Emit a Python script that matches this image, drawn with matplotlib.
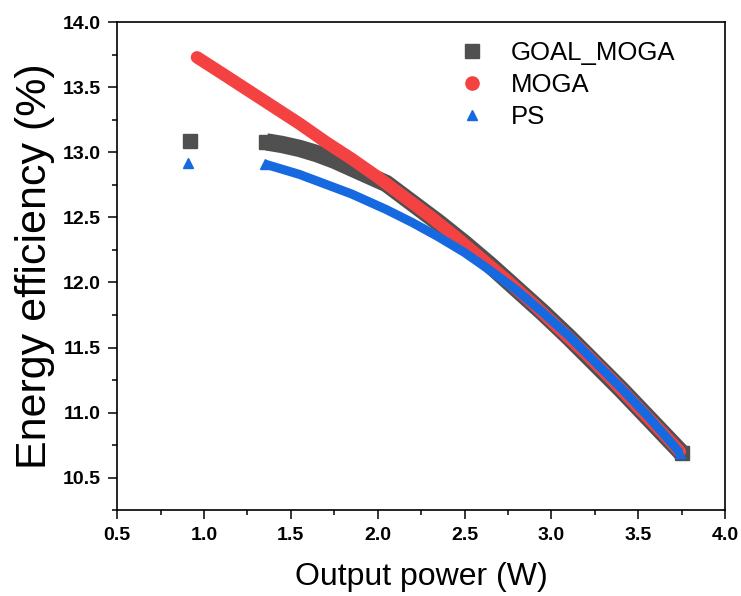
import matplotlib
matplotlib.use("Agg")
import matplotlib.pyplot as plt
from matplotlib.lines import Line2D
from matplotlib.ticker import MultipleLocator

plt.rcParams['font.family'] = ['Liberation Sans', 'DejaVu Sans']

# Pareto fronts: output power (W) vs energy efficiency (%)
goal_x = [1.36, 1.45, 1.55, 1.65, 1.75, 1.85, 1.95, 2.05, 2.20, 2.35, 2.50, 2.65,
          2.80, 2.95, 3.10, 3.25, 3.40, 3.55, 3.65, 3.75]
goal_y = [13.08, 13.06, 13.03, 12.99, 12.94, 12.88, 12.82, 12.76, 12.61, 12.46, 12.30, 12.13,
          11.95, 11.77, 11.58, 11.38, 11.18, 10.97, 10.83, 10.69]
goal_lone_x = [0.92]
goal_lone_y = [13.09]

moga_x = [0.96, 1.10, 1.25, 1.40, 1.55, 1.70, 1.85, 2.00, 2.15, 2.30, 2.45, 2.60,
          2.75, 2.90, 3.05, 3.20, 3.35, 3.50, 3.65, 3.74]
moga_y = [13.73, 13.61, 13.48, 13.35, 13.22, 13.08, 12.95, 12.81, 12.66, 12.51, 12.35, 12.18,
          12.01, 11.83, 11.64, 11.45, 11.25, 11.04, 10.83, 10.70]

ps_x = [1.35, 1.45, 1.55, 1.65, 1.75, 1.85, 1.95, 2.05, 2.20, 2.35, 2.50, 2.65,
        2.80, 2.95, 3.10, 3.25, 3.40, 3.55, 3.65, 3.74]
ps_y = [12.91, 12.87, 12.83, 12.78, 12.73, 12.68, 12.62, 12.56, 12.46, 12.35, 12.23, 12.09,
        11.94, 11.77, 11.59, 11.39, 11.19, 10.98, 10.83, 10.69]
ps_lone_x = [0.91]
ps_lone_y = [12.92]

labels = ['GOAL_MOGA', 'MOGA', 'PS']
colors = ['#505050', '#f44242', '#1769e0']

fig = plt.figure(figsize=(7.41, 5.96), dpi=100)
ax = fig.add_axes([0.158, 0.144, 0.8205, 0.8188])

# dense fronts drawn as thick bands, lone points as single markers
ax.plot(goal_x, goal_y, color=colors[0], lw=12.5, solid_capstyle='butt',
        solid_joinstyle='round', marker='s', ms=10.5, markevery=[0, -1], zorder=2)
ax.plot(goal_lone_x, goal_lone_y, ls='none', marker='s', ms=10, color=colors[0], zorder=2)

ax.plot(moga_x, moga_y, color=colors[1], lw=9, solid_capstyle='round',
        solid_joinstyle='round', zorder=3)

ax.plot(ps_x, ps_y, color=colors[2], lw=6.5, solid_capstyle='butt',
        solid_joinstyle='round', marker='^', ms=7, markevery=[0, -1], zorder=4)
ax.plot(ps_lone_x, ps_lone_y, ls='none', marker='^', ms=7, color=colors[2], zorder=4)

ax.set_xlim(0.5, 4.0)
ax.set_ylim(10.25, 14.0)
ax.xaxis.set_major_locator(MultipleLocator(0.5))
ax.xaxis.set_minor_locator(MultipleLocator(0.25))
ax.yaxis.set_major_locator(MultipleLocator(0.5))
ax.yaxis.set_minor_locator(MultipleLocator(0.25))
ax.tick_params(which='major', direction='out', length=6.5, width=1.1, pad=5.5)
ax.tick_params(which='minor', direction='out', length=3.5, width=1.1)
for lab in ax.get_xticklabels() + ax.get_yticklabels():
    lab.set_fontweight('bold')
    lab.set_fontsize(14)
for sp in ax.spines.values():
    sp.set_linewidth(1.2)

ax.set_xlabel('Output power (W)', fontsize=23, labelpad=13)
ax.set_ylabel('Energy efficiency (%)', fontsize=31, labelpad=5)

handles = [
    Line2D([], [], ls='none', marker='s', ms=10, color=colors[0]),
    Line2D([], [], ls='none', marker='o', ms=9.5, color=colors[1]),
    Line2D([], [], ls='none', marker='^', ms=7, color=colors[2]),
]
ax.legend(handles, labels, loc='upper left', bbox_to_anchor=(0.5625, 0.962),
          frameon=False, fontsize=18.5, borderpad=0, borderaxespad=0,
          handlelength=1.0, handletextpad=1.0, labelspacing=0.31)

fig.savefig('out.png', dpi=100)
